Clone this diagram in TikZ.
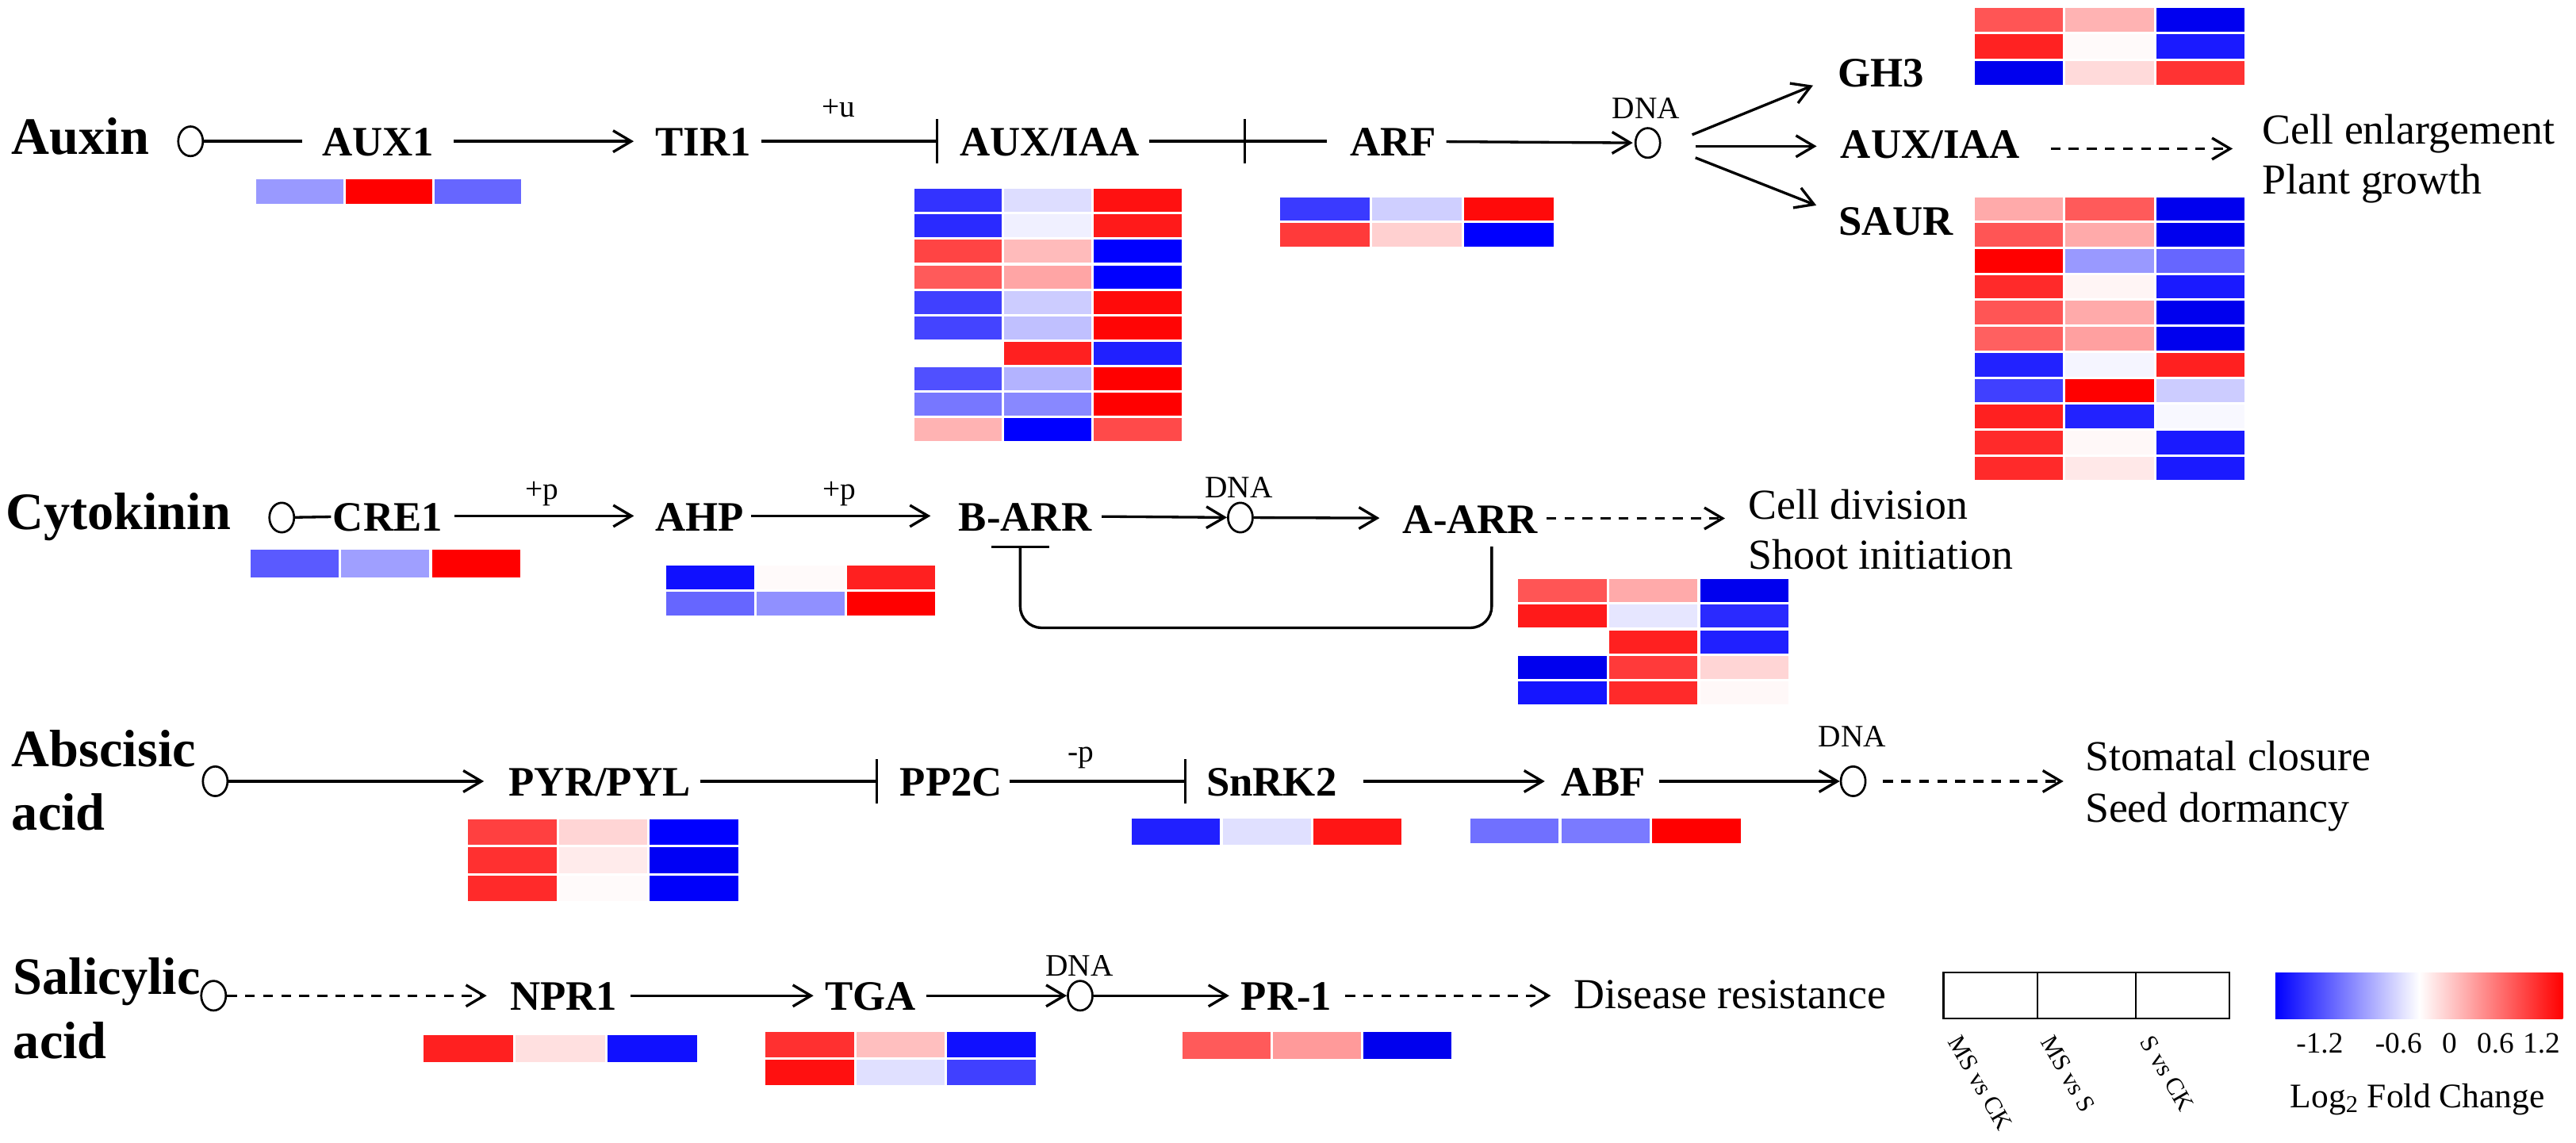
\documentclass[tikz,border=0pt]{standalone}
\usepackage{fontspec}
\setmainfont{Liberation Serif}
\usetikzlibrary{arrows.meta,shapes.geometric,calc}

\tikzset{
 gene/.style={font=\fontsize{25.5}{30}\selectfont\bfseries, text height=18pt, text depth=0pt, inner sep=0pt},
 hormone/.style={font=\fontsize{32}{38}\selectfont\bfseries, inner sep=0pt, anchor=base west},
 effect/.style={font=\fontsize{26}{31}\selectfont, inner sep=0pt, anchor=base west},
 small/.style={font=\fontsize{19}{22}\selectfont, inner sep=0pt, anchor=base},
 dot/.style={ellipse, draw, line width=1.3pt, minimum width=15pt, minimum height=18pt, inner sep=0pt},
 conn/.style={line width=1.6pt},
 act/.style={conn, -{Straight Barb[length=11pt,width=13pt]}},
 dact/.style={act, dash pattern=on 6pt off 5pt},
 inh/.style={conn, -{Bar[width=27pt]}},
}

\newcommand{\heatmap}[5]{%
  \foreach \hmA/\hmB/\hmC [count=\hmI from 0] in {#5}{%
    \edef\hmtmp{\noexpand\definecolor{hca}{HTML}{\hmA}\noexpand\definecolor{hcb}{HTML}{\hmB}\noexpand\definecolor{hcc}{HTML}{\hmC}}\hmtmp
    \fill[hca] ({#1},{#2+\hmI*#4}) rectangle ++({#3-1.5},{#4-1.5});
    \fill[hcb] ({#1+#3},{#2+\hmI*#4}) rectangle ++({#3-1.5},{#4-1.5});
    \fill[hcc] ({#1+2*#3},{#2+\hmI*#4}) rectangle ++({#3-1.5},{#4-1.5});
  }}

\begin{document}
\begin{tikzpicture}[x=1pt,y=-1pt]
\useasboundingbox[fill=white] (0,0) rectangle (1568,695.2);

% ---------------- Auxin ----------------
\node[hormone] (auxin) at (7,94) {Auxin};
\node[dot] (c1) at (116,86) {};
\node[gene] (aux1) at (230,86) {AUX1};
\node[gene] (tir1) at (428,86) {TIR1};
\node[gene] (auxiaa) at (639,86) {AUX/IAA};
\node[gene] (arf) at (848,86) {ARF};
\node[dot] (dna1) at (1003,87) {};
\node[small] (dna1l) at (1002,72) {DNA};
\node[small] (plusu) at (510.5,71) {+u};
\node[gene] (gh3) at (1145,44) {GH3};
\node[gene] (auxiaa2) at (1175,87.5) {AUX/IAA};
\node[gene] (saur) at (1154,134) {SAUR};
\node[effect] (eff1a) at (1377,87.5) {Cell enlargement};
\node[effect] (eff1b) at (1377,118) {Plant growth};

\draw[conn, shorten >=12pt] (c1) -- (aux1);
\draw[act, shorten <=12pt, shorten >=13pt] (aux1) -- (tir1);
\draw[inh, shorten <=6pt, shorten >=13pt] (tir1) -- (auxiaa);
\draw[conn, shorten <=6pt, shorten >=14pt] (auxiaa) -- (arf);
\path (auxiaa.east) -- coordinate[pos=0.5] (midb) (arf.west);
\draw[conn] ($(midb)+(0,-13.5)$) -- ($(midb)+(0,13.5)$);
\draw[act, shorten <=6pt, shorten >=1pt] (arf) -- (dna1);
\draw[act] ($(dna1)+(27,-5)$) -- ($(gh3.west)+(-15,8)$);
\draw[act] ($(dna1)+(29,2)$) -- ($(auxiaa2.west)+(-14.5,1.5)$);
\draw[act] ($(dna1)+(29,9)$) -- ($(saur.west)+(-13.5,-9)$);
\draw[dact] ($(auxiaa2.east)+(18.5,3)$) -- ($(auxiaa2.east -| eff1a.west)+(-18,3)$);

\heatmap{156}{109}{54.3}{16.5}{9999FF/FF0000/6666FF}
\heatmap{556.5}{115}{54.7}{15.5}{3333FF/DDDDFF/FF1111, 2A2AFF/F0F0FF/FF1A1A, FF4444/FFBBBB/0000FF, FF5A5A/FFA5A5/0000FF, 4040FF/CCCCFF/FF0A0A, 4444FF/C0C0FF/FF0505, FFFFFF/FF2020/2020FF, 5050FF/B3B3FF/FF0000, 7777FF/8888FF/FF0000, FFB3B3/0000FF/FF4A4A}
\heatmap{779}{120}{56}{15.8}{3A3AFF/CFCFFF/FF0A0A, FF3A3A/FFD0D0/0000FF}
\heatmap{1202}{5}{55.3}{16}{FF5555/FFB3B3/0000F0, FF2222/FFFAFA/1A1AFF, 0000EE/FFDADA/FF3333}
\heatmap{1202}{120}{55.3}{15.8}{FFAAAA/FF5A5A/0000EE, FF5555/FFAAAA/0000EE, FF0000/9999FF/6666FF, FF2A2A/FFF5F5/1A1AFF, FF5555/FFAAAA/0000EE, FF6060/FFA0A0/0000EE, 2222FF/F5F5FF/FF2020, 4040FF/FF0000/CCCCFF, FF2020/2222FF/F8F8FF, FF2A2A/FFF8F8/1A1AFF, FF2A2A/FFE8E8/1A1AFF}

% ---------------- Cytokinin ----------------
\node[hormone] (cyto) at (3.4,322) {Cytokinin};
\node[dot] (c2) at (171.5,315) {};
\node[gene] (cre1) at (236,314) {CRE1};
\node[gene] (ahp) at (426,314) {AHP};
\node[gene] (barr) at (624,314) {B-ARR};
\node[dot] (dna2) at (755,315) {};
\node[small] (dna2l) at (754,303) {DNA};
\node[gene] (aarr) at (895,315.5) {A-ARR};
\node[effect] (eff2a) at (1064,316) {Cell division};
\node[effect] (eff2b) at (1064,346.6) {Shoot initiation};
\node[small] (plusp1) at (330,304) {+p};
\node[small] (plusp2) at (511,304) {+p};

\draw[conn, shorten >=1pt] (c2) -- (cre1);
\draw[act, shorten <=7pt, shorten >=13pt] (cre1) -- (ahp);
\draw[act, shorten <=4pt, shorten >=17pt] (ahp) -- (barr);
\draw[act, shorten <=6pt] (barr) -- (dna2);
\draw[act, shorten >=14pt] (dna2) -- (aarr);
\draw[dact, shorten <=5pt, shorten >=14pt] (aarr.east) -- (aarr.east -| eff2a.west);
\coordinate (fbA) at ($(aarr.south)+(13,8)$);
\coordinate (fbB) at ($(barr.south)+(-3,9)$);
\draw[conn, -{Bar[width=35pt]}, rounded corners=13pt] (fbA) -- ++(0,49.4) -| (fbB);

\heatmap{152.5}{334.6}{55.2}{18.5}{5A5AFF/9F9FFF/FF0000}
\heatmap{405.6}{344}{55}{16}{1010FF/FFFAFA/FF2020, 6666FF/9090FF/FF0000}
\heatmap{924}{352.4}{55.4}{15.6}{FF5555/FFAAAA/0000EE, FF1A1A/E6E6FF/2A2AFF, FFFFFF/FF2020/2020FF, 0000EE/FF3A3A/FFD5D5, 1515FF/FF2A2A/FFF8F8}

% ---------------- Abscisic acid ----------------
\node[hormone] (aba1) at (7,466.7) {Abscisic};
\node[hormone] (aba2) at (7,505) {acid};
\node[dot] (c3) at (131,475.5) {};
\node[gene] (pyr) at (365,475.5) {PYR/PYL};
\node[gene] (pp2c) at (579,475.5) {PP2C};
\node[gene] (snrk2) at (774,475.5) {SnRK2};
\node[gene] (abf) at (976,475.5) {ABF};
\node[dot] (dna3) at (1128,475.5) {};
\node[small] (dna3l) at (1127.5,454.7) {DNA};
\node[small] (minusp) at (658,463.5) {-p};
\node[effect] (eff3a) at (1269,469) {Stomatal closure};
\node[effect] (eff3b) at (1269,500.5) {Seed dormancy};

\draw[act, shorten >=15pt] (c3) -- (pyr);
\draw[inh, shorten <=6pt, shorten >=13pt] (pyr) -- (pp2c);
\draw[inh, shorten <=4pt, shorten >=12pt] (pp2c) -- (snrk2);
\draw[act, shorten <=16pt, shorten >=10pt] (snrk2) -- (abf);
\draw[act, shorten <=8pt] (abf) -- (dna3);
\draw[dact, shorten <=10pt, shorten >=13pt] (dna3) -- (dna3 -| eff3a.west);

\heatmap{285}{498.8}{55.3}{17}{FF4040/FFD5D5/0000FF, FF3030/FFEBEB/0000F5, FF2A2A/FFFAFA/0000FA}
\heatmap{689}{498}{55.2}{17.5}{2020FF/E0E0FF/FF1515}
\heatmap{895}{498}{55.3}{16.5}{7070FF/7A7AFF/FF0000}

% ---------------- Salicylic acid ----------------
\node[hormone] (sal1) at (8,605) {Salicylic};
\node[hormone] (sal2) at (8,644) {acid};
\node[dot] (c4) at (130,606) {};
\node[gene] (npr1) at (343,606) {NPR1};
\node[gene] (tga) at (530,606) {TGA};
\node[dot] (dna4) at (657.5,606) {};
\node[small] (dna4l) at (657,594) {DNA};
\node[gene] (pr1) at (783,606) {PR-1};
\node[effect] (eff4) at (958,614) {Disease resistance};

\draw[dact, shorten >=14pt] (c4) -- (npr1);
\draw[act, shorten <=8pt, shorten >=7pt] (npr1) -- (tga);
\draw[act, shorten <=6pt] (tga) -- (dna4);
\draw[act, shorten >=7pt] (dna4) -- (pr1);
\draw[dact, shorten <=8pt, shorten >=14pt] (pr1) -- (pr1 -| eff4.west);

\heatmap{258}{630}{56}{18}{FF2020/FFE0E0/1010FF}
\heatmap{466}{628}{55.3}{17}{FF3030/FFBFBF/1010FF, FF1010/E0E0FF/4040FF}
\heatmap{720}{628}{55}{18}{FF5A5A/FF9A9A/0000EE}

% ---------------- Legend ----------------
\tikzset{lgbox/.style={draw, line width=1pt, minimum height=28pt, inner sep=0pt},
         lglab/.style={font=\fontsize{15}{17}\selectfont, rotate=-60, anchor=west, inner sep=0pt},
         tick/.style={font=\fontsize{18}{21}\selectfont, inner sep=0pt, anchor=base}}
\node[lgbox, minimum width=57pt] (lg1) at (1211.5,606) {};
\node[lgbox, minimum width=60pt] (lg2) at (1270,606) {};
\node[lgbox, minimum width=57pt] (lg3) at (1328.5,606) {};
\node[lglab] (lt1) at ($(lg1.south)+(-22,11)$) {MS vs CK};
\node[lglab] (lt2) at ($(lg2.south)+(-24,11)$) {MS vs S};
\node[lglab] (lt3) at ($(lg3.south)+(-22,11)$) {S vs CK};
\node[rectangle, minimum width=175pt, minimum height=28pt, inner sep=0pt, left color=blue, right color=red, middle color=white] (cbar) at (1472.5,606) {};
\node[tick] (t1) at (1412,641) {-1.2};
\node[tick] (t2) at (1460,641) {-0.6};
\node[tick] (t3) at (1491,641) {0};
\node[tick] (t4) at (1519,641) {0.6};
\node[tick] (t5) at (1547,641) {1.2};
\node[tick, font=\fontsize{21}{24}\selectfont] (lgt) at (1471.5,674) {Log\textsubscript{2} Fold Change};
\end{tikzpicture}
\end{document}
